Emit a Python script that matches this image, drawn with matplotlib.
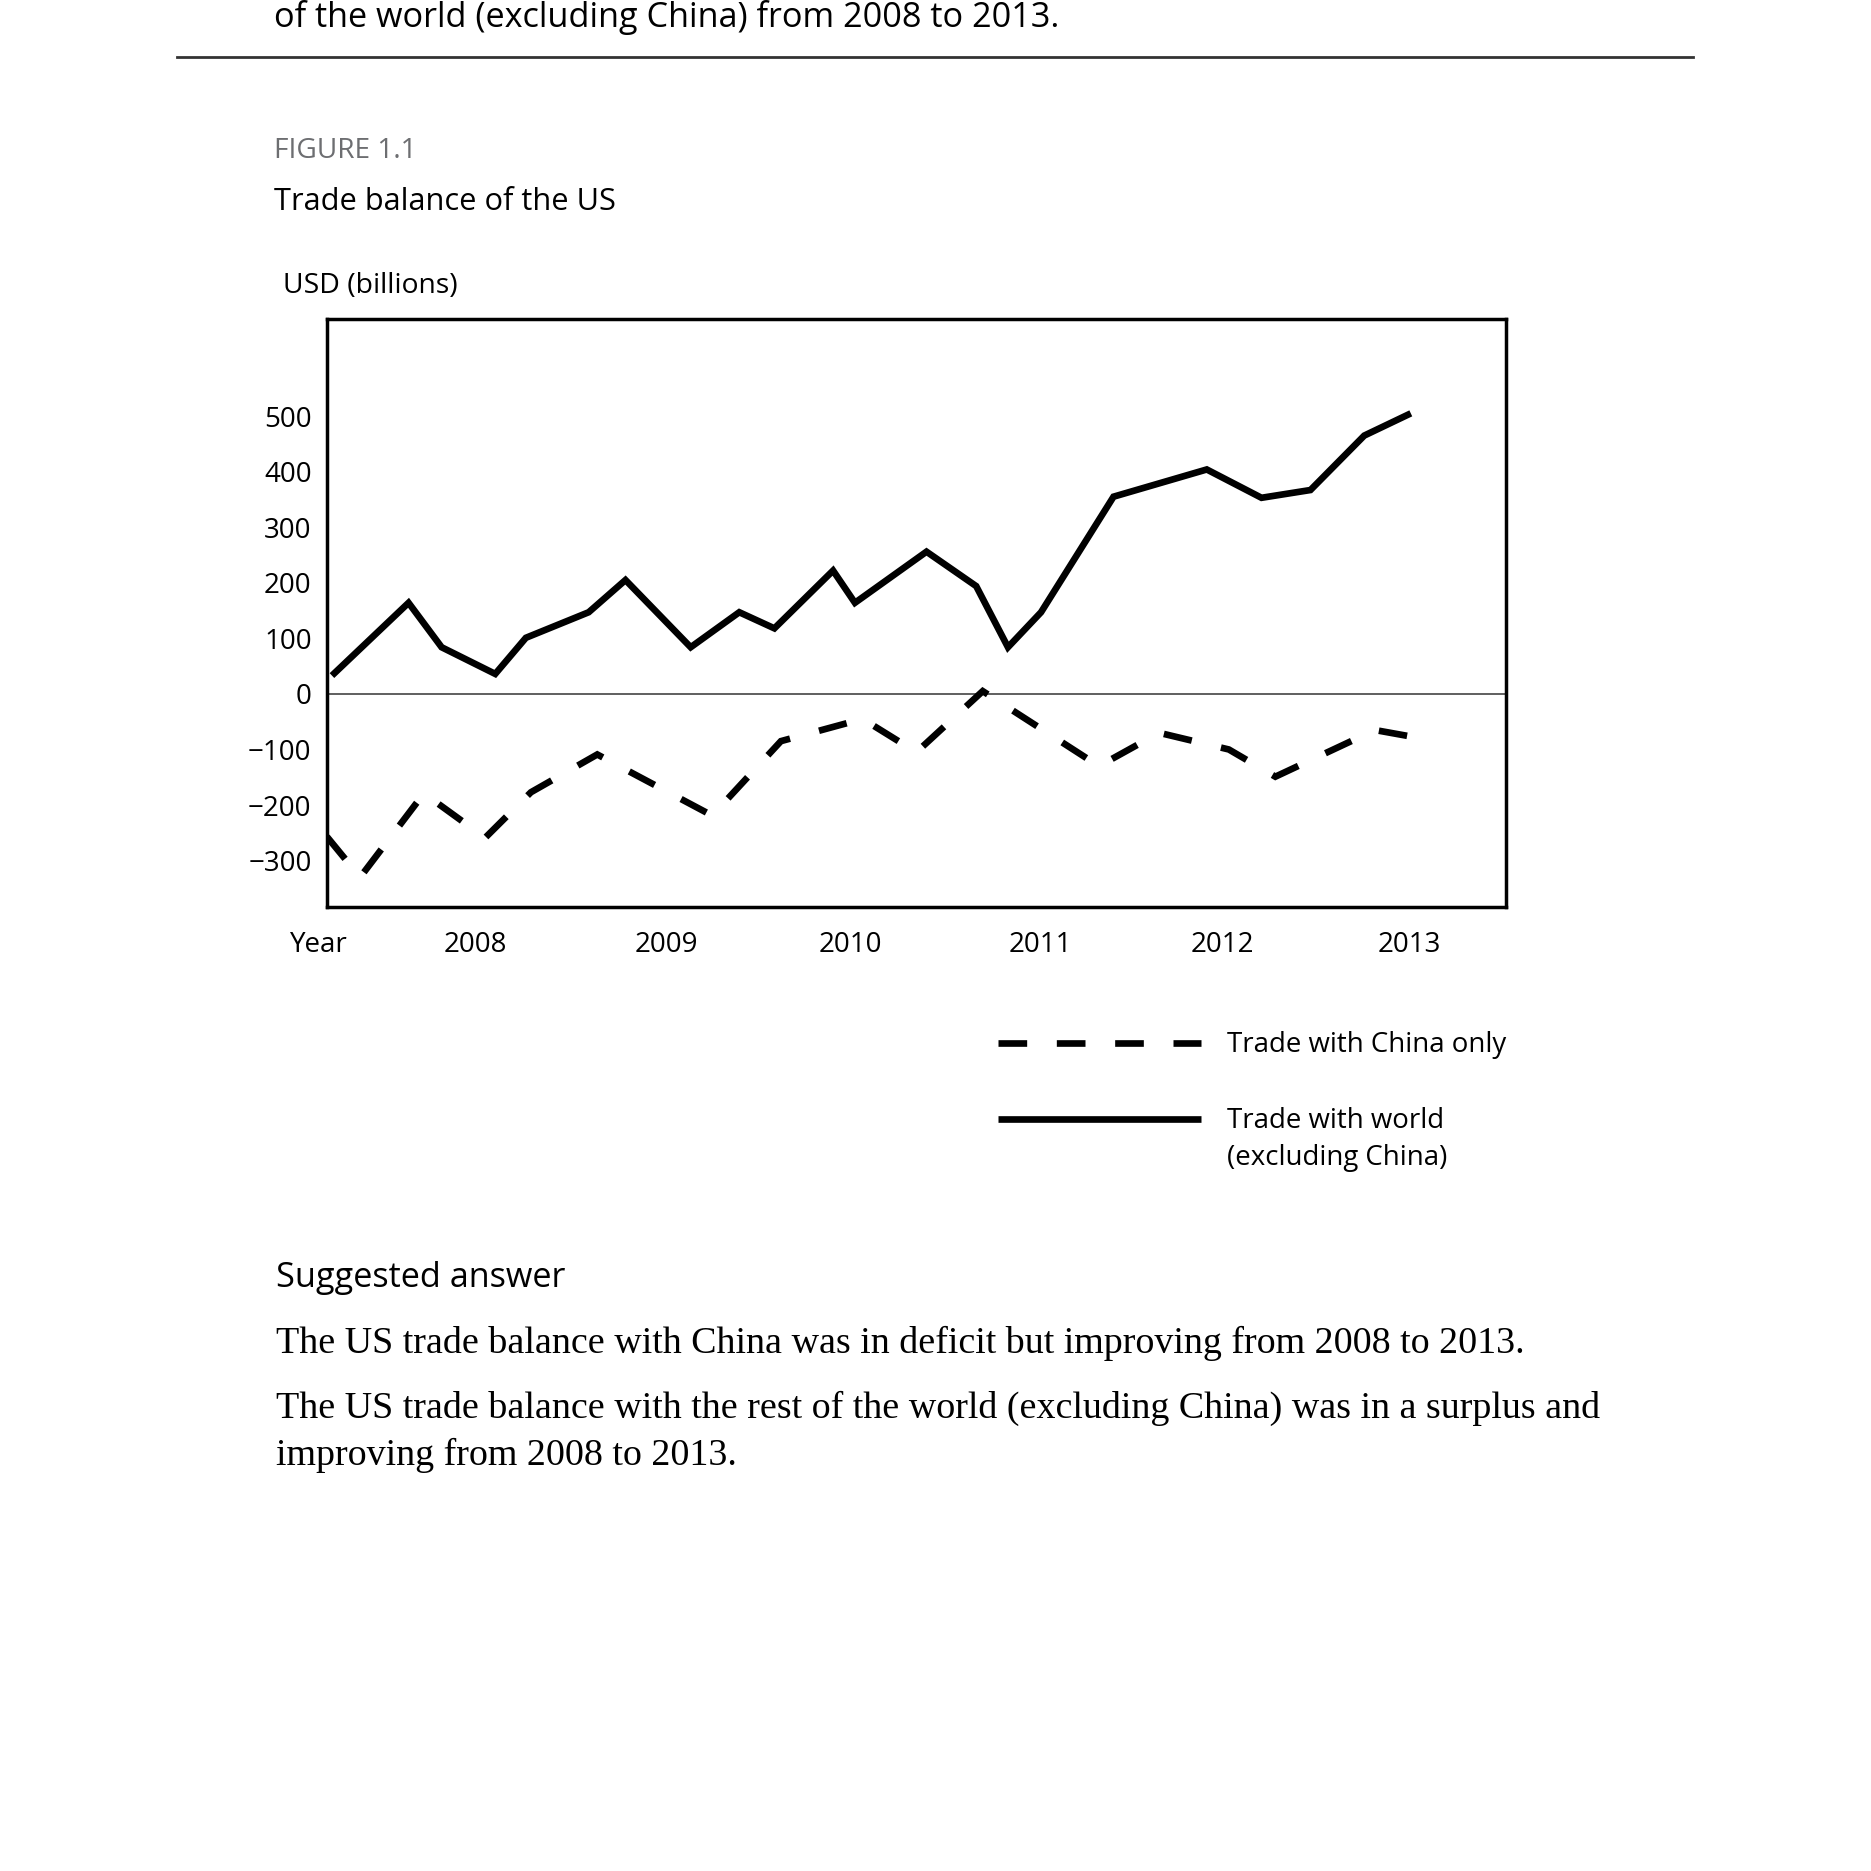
import matplotlib
matplotlib.use("Agg")
import matplotlib.pyplot as plt
from matplotlib.lines import Line2D

# values (x = position in years, y = USD billions)
world_x = [2007.235, 2007.645, 2007.822, 2008.109, 2008.273, 2008.609, 2008.806, 2009.155,
           2009.415, 2009.603, 2009.917, 2010.034, 2010.417, 2010.683, 2010.853, 2011.030,
           2011.418, 2011.917, 2012.210, 2012.472, 2012.760, 2013.009]
world_y = [33, 164, 84, 36, 101, 147, 205, 84, 147, 118, 222, 164, 256, 194, 84, 147,
           355, 404, 353, 367, 465, 505]

china_x = [2007.208, 2007.386, 2007.727, 2008.055, 2008.300, 2008.655, 2009.270, 2009.638,
           2010.075, 2010.363, 2010.718, 2011.340, 2011.662, 2012.035, 2012.284, 2012.817,
           2013.015]
china_y = [-257, -330, -179, -259, -177, -109, -219, -85, -45, -105, 5, -130, -70, -100,
           -149, -65, -77]

years = [2008, 2009, 2010, 2011, 2012, 2013]
# the year labels in the original sit a little off the even spacing
year_pos = [2008.0, 2009.024, 2010.007, 2011.025, 2012.0, 2013.0]
y_ticks = [-300, -200, -100, 0, 100, 200, 300, 400, 500]

W = H = 1871
plt.rcParams["font.family"] = ["Open Sans", "DejaVu Sans"]

fig = plt.figure(figsize=(W / 100, H / 100), dpi=100)
ax = fig.add_axes([0.17472, 0.51528, 0.63025, 0.31427])

LW = 4.8
ax.plot(world_x, world_y, color="black", lw=LW, solid_joinstyle="miter", solid_capstyle="butt")
ax.plot(china_x, china_y, color="black", lw=LW, linestyle=(0, (4.3, 4.5)),
        dash_joinstyle="miter", dash_capstyle="butt")
ax.axhline(0, color="#444444", lw=1.2, zorder=1)

ax.set_xlim(2007.208, 2013.519)
ax.set_ylim(-383.4, 675)
ax.set_xticks(year_pos)
ax.set_xticklabels([str(y) for y in years])
ax.set_yticks(y_ticks)
ax.set_yticklabels([str(v).replace("-", "\u2212") for v in y_ticks])
ax.tick_params(length=0, labelsize=20, colors="black")
ax.tick_params(axis="y", pad=11)
ax.tick_params(axis="x", pad=17.7)
for s in ax.spines.values():
    s.set_linewidth(2.5)
ax.text(2007.167, -0.0648, "Year", transform=ax.get_xaxis_transform(),
        ha="center", va="center", fontsize=20)


def px(x, y):
    return x / W, 1 - y / H


def fit_width(texts, width_px):
    r = fig.canvas.get_renderer()
    w = texts[0].get_window_extent(renderer=r).width
    size = texts[0].get_fontsize() * width_px / w
    for t in texts:
        t.set_fontsize(size)


# page text above the chart
t_top = fig.text(*px(274.5, 26.7), "of the world (excluding China) from 2008 to 2013.",
                 va="baseline", fontsize=22)
fit_width([t_top], 787)
fig.add_artist(Line2D([176.5 / W, 1693 / W], [1 - 57.3 / H] * 2, color="#333333", lw=2))

t_fig = fig.text(*px(274.5, 158.3), "FIGURE 1.1", va="baseline", fontsize=20, color="#6d6e71")
fit_width([t_fig], 143)
t_title = fig.text(*px(274.5, 210), "Trade balance of the US", va="baseline", fontsize=22)
fit_width([t_title], 342)
t_usd = fig.text(*px(282.7, 292.7), "USD (billions)", va="baseline", fontsize=20)
fit_width([t_usd], 175.5)

# legend drawn by hand below the chart
fig.add_artist(Line2D([998.2 / W, 1201.3 / W], [1 - 1043.4 / H] * 2, color="black", lw=LW,
                      linestyle=(0, (4.3, 4.45)), dash_capstyle="butt"))
fig.add_artist(Line2D([998.2 / W, 1201.3 / W], [1 - 1118.5 / H] * 2, color="black", lw=LW,
                      solid_capstyle="butt"))
l1 = fig.text(*px(1226.6, 1052.2), "Trade with China only", va="baseline", fontsize=22)
l2 = fig.text(*px(1226.6, 1128.1), "Trade with world", va="baseline", fontsize=22)
l3 = fig.text(*px(1226.6, 1165), "(excluding China)", va="baseline", fontsize=22)
fit_width([l1, l2, l3], 279)

# suggested answer
t_sug = fig.text(*px(276.4, 1287.4), "Suggested answer", va="baseline", fontsize=24)
fit_width([t_sug], 291)
serif = ["Liberation Serif", "DejaVu Serif"]
a1 = fig.text(*px(276.4, 1353.3),
              "The US trade balance with China was in deficit but improving from 2008 to 2013.",
              va="baseline", fontsize=26, family=serif)
a2 = fig.text(*px(276.4, 1417.5),
              "The US trade balance with the rest of the world (excluding China) was in a surplus and",
              va="baseline", fontsize=26, family=serif)
a3 = fig.text(*px(276.4, 1464.8), "improving from 2008 to 2013.",
              va="baseline", fontsize=26, family=serif)
fit_width([a2, a1, a3], 1321.5)

fig.savefig("out.png", dpi=100, facecolor="white")
